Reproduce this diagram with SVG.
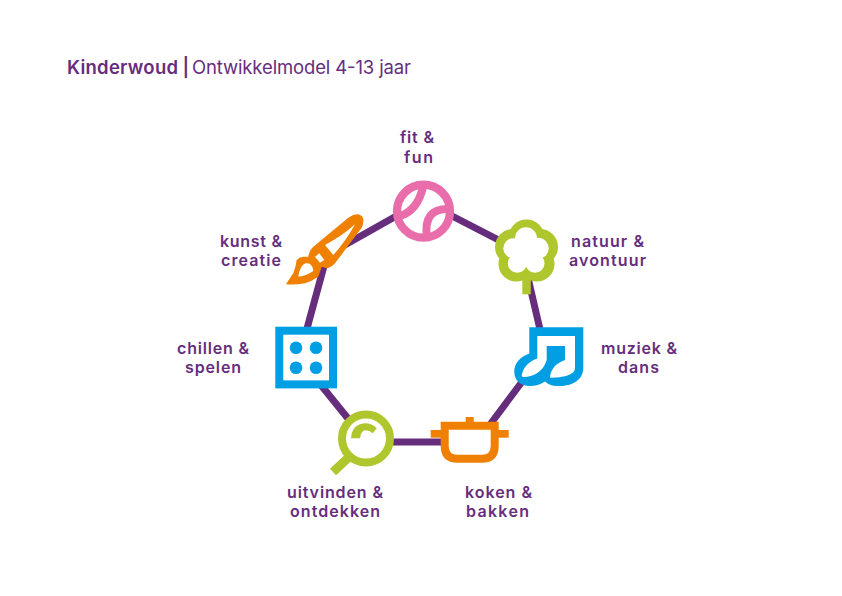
<svg xmlns="http://www.w3.org/2000/svg" width="842" height="596" viewBox="0 0 842 596">
<style>
text{font-family:"Inter","Liberation Sans",sans-serif;fill:#662d7d}
.l{font-size:16px;font-weight:600;text-anchor:middle}
.t{font-size:18.5px}
.pu{fill:none;stroke:#662d7d;stroke-width:7;stroke-linejoin:round}
.pink{stroke:#ea6dab;fill:none}
.blue{fill:#009fe3}
.orange{fill:#f08000}
.g{fill:#afc62d}
.w{fill:#fff}
</style>
<rect width="842" height="596" fill="#fff"/>
<g id="title">
<text class="t" x="67" y="74" font-weight="600" textLength="111">Kinderwoud</text>
<text class="t" x="182.500" y="74" font-weight="600">|</text>
<text class="t" x="192" y="74" font-weight="400" textLength="219">Ontwikkelmodel 4-13 jaar</text>
</g>
<g id="connectors">
<polygon class="pu" points="423,201 522,252 545,351 477,442 367,442 299,358 327,255"/>
</g>
<g id="fit-fun">
<circle cx="423.5" cy="211.2" r="26.5" fill="#fff" stroke="#ea6dab" stroke-width="8.300"/>
<path class="pink" stroke-width="8" d="M423,187Q417.500,210.500 400,216M450,209Q422.500,207.500 427,238"/>
<text class="l" x="417" y="142.500" textLength="34">fit &amp;</text>
<text class="l" x="418.500" y="162.500" textLength="29">fun</text>
</g>
<g id="natuur-avontuur">
<rect class="g" x="522.300" y="275" width="8.500" height="19.300"/>
<g class="g"><circle cx="526.500" cy="237.500" r="18"/><circle cx="513" cy="247" r="18"/><circle cx="540" cy="247" r="18"/><circle cx="516" cy="264" r="17.500"/><circle cx="537" cy="264" r="17.500"/><circle cx="526" cy="255" r="20"/></g>
<g class="w"><circle cx="526" cy="238.300" r="11"/><circle cx="513.300" cy="248.300" r="10"/><circle cx="538.300" cy="248.300" r="10.500"/><circle cx="517.300" cy="263.300" r="9.500"/><circle cx="535" cy="263.300" r="9.500"/><circle cx="526" cy="250" r="16"/></g>
<text class="l" x="607.500" y="246.500" textLength="73">natuur &amp;</text>
<text class="l" x="607.500" y="265.500" textLength="77">avontuur</text>
</g>
<g id="muziek-dans">
<path class="blue" d="M529.300,327.300H583.300V368C583.300,380 572,386 560,386H557Q550,386 545,381.500Q538,386 530,386C520,386 514.300,380 514.300,371.700C514.300,363 520,357 529.300,353.500Z"/>
<path class="w" d="M537.300,336H575V368C575,375 563,377.700 550,377.700C550.700,368 557,363 565,360V346H546.700V360C544,370 535,377 523.500,377Q521,377 522,374C524,366 530,361 537.300,358.500Z"/>
<text class="l" x="639" y="353.500" textLength="76">muziek &amp;</text>
<text class="l" x="638.500" y="372.500" textLength="41">dans</text>
</g>
<g id="koken-bakken">
<rect class="orange" x="430.700" y="430" width="78" height="7.700"/>
<rect class="orange" x="465.700" y="417" width="8" height="6"/>
<path d="M444.700,425.700H494.700V446Q494.700,458.700 482,458.700H457.400Q444.700,458.700 444.700,446Z" fill="#fff" stroke="#f08000" stroke-width="8"/>
<text class="l" x="498.500" y="497.500" textLength="67">koken &amp;</text>
<text class="l" x="497.500" y="516.500" textLength="63">bakken</text>
</g>
<g id="uitvinden-ontdekken">
<path d="M348,458L333,472" stroke="#afc62d" stroke-width="9" fill="none"/>
<circle cx="366" cy="438.500" r="24" fill="#fff" stroke="#afc62d" stroke-width="8"/>
<path class="g" d="M351,438.300Q352,424 365,423.300Q372,423.300 376.700,428.300L372.700,433.300Q369,430 365,430.300Q361,431 360,438.300Z"/>
<text class="l" x="335" y="497.500" textLength="96">uitvinden &amp;</text>
<text class="l" x="335" y="516.500" textLength="90">ontdekken</text>
</g>
<g id="chillen-spelen">
<rect x="279.300" y="330.700" width="53.700" height="53.700" fill="#fff" stroke="#009fe3" stroke-width="8"/>
<g class="blue"><circle cx="296" cy="347.700" r="6.300"/><circle cx="316" cy="347.700" r="6.300"/><circle cx="296" cy="367.700" r="6.300"/><circle cx="316" cy="367.700" r="6.300"/></g>
<text class="l" x="213" y="353.500" textLength="72">chillen &amp;</text>
<text class="l" x="213" y="372.500" textLength="56">spelen</text>
</g>
<g id="kunst-creatie">
<path class="orange" d="M286,284.300Q292,275 293.300,273.300Q296,266 296.700,260Q299,257 303.300,256.700L308.300,256.700Q309,251 313.300,246.700L348.300,217.700Q354,214 358.300,214.300Q364,216 363.300,221.700Q363,227 360,230L335,263.300Q331,268 326.700,268.300L321.700,266.700L318.300,276.700Q312,281 305,283.300Q295,285 286,284.300Z"/>
<path class="w" d="M298.300,276.700Q299,271 300.700,268.300Q303,264 306,263.300Q310,263 311.700,265.700Q313.300,268 313.300,271Q307,275.500 298.300,276.700Z"/>
<path class="w" d="M315,256.700L319.300,253.300L324.300,260L320,262.700Z"/>
<path class="w" d="M355,224.300Q342,236 325,245L333.300,255Q346,241 355,224.300Z"/>
<text class="l" x="251" y="246.500" textLength="62">kunst &amp;</text>
<text class="l" x="251" y="265.500" textLength="60">creatie</text>
</g>
</svg>
